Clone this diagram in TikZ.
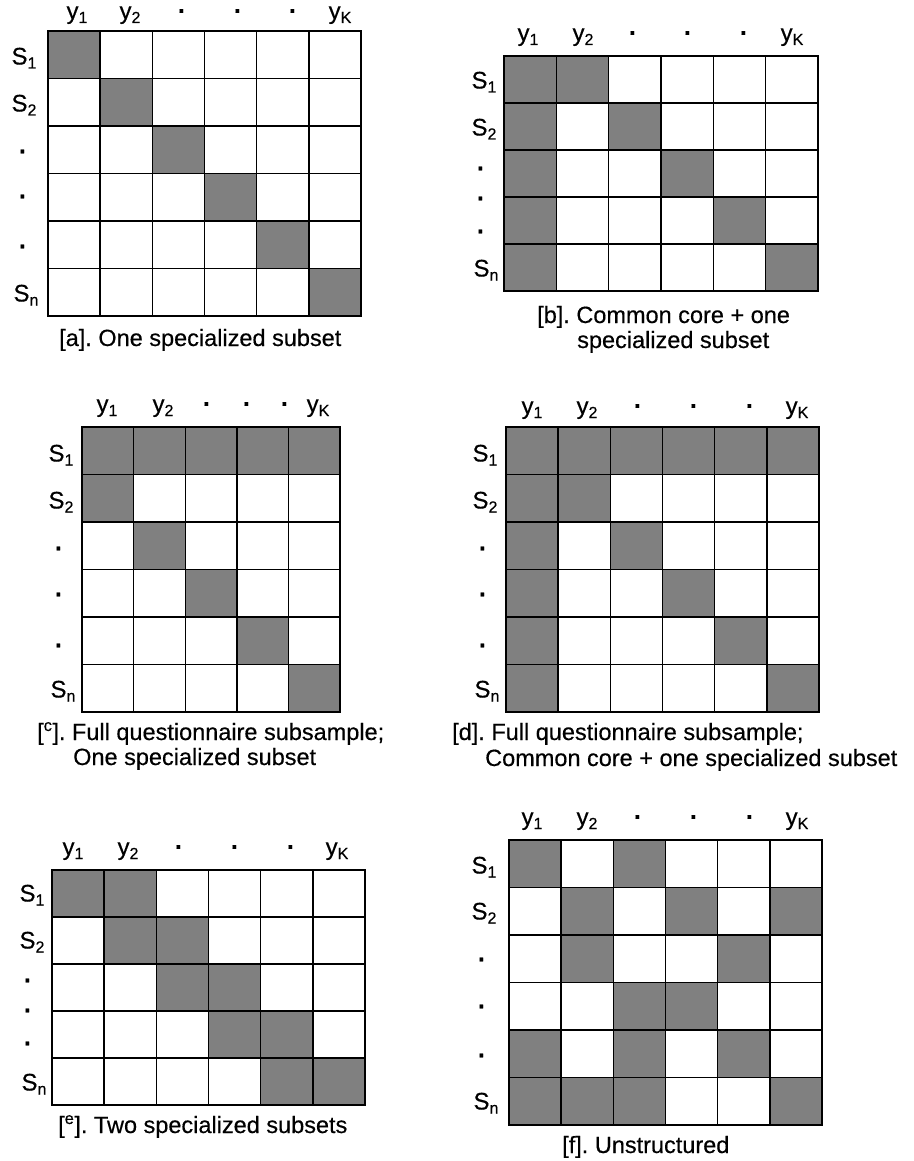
\documentclass[tikz,border=0pt]{standalone}
\usepackage{fontspec}
\setmainfont{Liberation Sans}[FakeBold=0.4]
\frenchspacing
\definecolor{cellgray}{RGB}{128,128,128}
\newcommand{\lsub}[1]{\raisebox{-4pt}{\fontsize{16}{16}\selectfont #1}}
\newcommand{\ldot}{\textbf{·}}

\begin{document}
\begin{tikzpicture}[x=1pt,y=-1pt,
    cell/.style={fill=cellgray},
    cellline/.style={line width=1.4pt},
    collab/.style={anchor=base,inner sep=0pt,font=\fontsize{24}{28}\selectfont},
    rowlab/.style={anchor=center,inner sep=0pt,text height=17pt,text depth=0pt,font=\fontsize{24}{28}\selectfont},
    capline/.style={anchor=base west,inner sep=0pt,font=\fontsize{23.5}{28}\selectfont}]
  \useasboundingbox (0,0) rectangle (913,1161);

  % [a] one specialized subset
  \begin{scope}[shift={(48,31)},xscale=52.17,yscale=47.5]
    \fill[cell] (0,0) rectangle (1,1);
    \fill[cell] (1,1) rectangle (2,2);
    \fill[cell] (2,2) rectangle (3,3);
    \fill[cell] (3,3) rectangle (4,4);
    \fill[cell] (4,4) rectangle (5,5);
    \fill[cell] (5,5) rectangle (6,6);
    \draw[cellline] (0,0) rectangle (6,6) (1,0) -- (1,6) (2,0) -- (2,6) (3,0) -- (3,6) (4,0) -- (4,6) (5,0) -- (5,6);
    \draw[cellline] (0,1) -- (6,1) (0,2) -- (6,2) (0,3) -- (6,3) (0,4) -- (6,4) (0,5) -- (6,5);
  \end{scope}
  \node[collab] (a-y1) at (77,19) {y\lsub{1}};
  \node[collab] (a-y2) at (130,19) {y\lsub{2}};
  \node[collab] (a-c3) at (182,19) {\ldot};
  \node[collab] (a-c4) at (238,19) {\ldot};
  \node[collab] (a-c5) at (293,19) {\ldot};
  \node[collab] (a-yk) at (340,19) {y\lsub{K}};
  \node[rowlab] (a-s1) at (24,56) {S\lsub{1}};
  \node[rowlab] (a-s2) at (24,103) {S\lsub{2}};
  \node[rowlab] (a-r3) at (23,151) {\ldot};
  \node[rowlab] (a-r4) at (23,196) {\ldot};
  \node[rowlab] (a-r5) at (23,246) {\ldot};
  \node[rowlab] (a-sn) at (26,293) {S\lsub{n}};
  \node[capline] (a-cap) at (59,346) {[a]. One specialized subset};

  % [b] common core + one specialized subset
  \begin{scope}[shift={(504,56)},xscale=52.33,yscale=47]
    \fill[cell] (0,0) rectangle (2,1);
    \fill[cell] (0,1) rectangle (1,5);
    \fill[cell] (2,1) rectangle (3,2);
    \fill[cell] (3,2) rectangle (4,3);
    \fill[cell] (4,3) rectangle (5,4);
    \fill[cell] (5,4) rectangle (6,5);
    \draw[cellline] (0,0) rectangle (6,5) (1,0) -- (1,5) (2,0) -- (2,5) (3,0) -- (3,5) (4,0) -- (4,5) (5,0) -- (5,5);
    \draw[cellline] (0,1) -- (6,1) (0,2) -- (6,2) (0,3) -- (6,3) (0,4) -- (6,4);
  \end{scope}
  \node[collab] (b-y1) at (528,41) {y\lsub{1}};
  \node[collab] (b-y2) at (583,41) {y\lsub{2}};
  \node[collab] (b-c3) at (633,41) {\ldot};
  \node[collab] (b-c4) at (688,41) {\ldot};
  \node[collab] (b-c5) at (744,41) {\ldot};
  \node[collab] (b-yk) at (792,41) {y\lsub{K}};
  \node[rowlab] (b-s1) at (484,80) {S\lsub{1}};
  \node[rowlab] (b-s2) at (484,127) {S\lsub{2}};
  \node[rowlab] (b-r3) at (481,168) {\ldot};
  \node[rowlab] (b-r4) at (481,198) {\ldot};
  \node[rowlab] (b-r5) at (481,231) {\ldot};
  \node[rowlab] (b-sn) at (486,268) {S\lsub{n}};
  \node[capline] (b-cap1) at (537,323) {[b]. Common core + one};
  \node[capline] (b-cap2) at (577,348) {specialized subset};

  % [c] full questionnaire subsample; one specialized subset
  \begin{scope}[shift={(82,427)},xscale=51.6,yscale=47.5]
    \fill[cell] (0,0) rectangle (5,1);
    \fill[cell] (0,1) rectangle (1,2);
    \fill[cell] (1,2) rectangle (2,3);
    \fill[cell] (2,3) rectangle (3,4);
    \fill[cell] (3,4) rectangle (4,5);
    \fill[cell] (4,5) rectangle (5,6);
    \draw[cellline] (0,0) rectangle (5,6) (1,0) -- (1,6) (2,0) -- (2,6) (3,0) -- (3,6) (4,0) -- (4,6);
    \draw[cellline] (0,1) -- (5,1) (0,2) -- (5,2) (0,3) -- (5,3) (0,4) -- (5,4) (0,5) -- (5,5);
  \end{scope}
  \node[collab] (c-y1) at (107,412) {y\lsub{1}};
  \node[collab] (c-y2) at (163,412) {y\lsub{2}};
  \node[collab] (c-c3) at (207,412) {\ldot};
  \node[collab] (c-c4) at (247,412) {\ldot};
  \node[collab] (c-c5) at (285,412) {\ldot};
  \node[collab] (c-yk) at (318,412) {y\lsub{K}};
  \node[rowlab] (c-s1) at (61,453) {S\lsub{1}};
  \node[rowlab] (c-s2) at (61,500) {S\lsub{2}};
  \node[rowlab] (c-r3) at (59,548) {\ldot};
  \node[rowlab] (c-r4) at (59,594) {\ldot};
  \node[rowlab] (c-r5) at (59,645) {\ldot};
  \node[rowlab] (c-sn) at (63,689) {S\lsub{n}};
  \node[capline] (c-cap1) at (37,740) {[\textsuperscript{c}]. Full questionnaire subsample;};
  \node[capline] (c-cap2) at (73,765) {One specialized subset};

  % [d] full questionnaire subsample; common core + one specialized subset
  \begin{scope}[shift={(506,427)},xscale=52.17,yscale=47.5]
    \fill[cell] (0,0) rectangle (6,1);
    \fill[cell] (0,1) rectangle (1,6);
    \fill[cell] (1,1) rectangle (2,2);
    \fill[cell] (2,2) rectangle (3,3);
    \fill[cell] (3,3) rectangle (4,4);
    \fill[cell] (4,4) rectangle (5,5);
    \fill[cell] (5,5) rectangle (6,6);
    \draw[cellline] (0,0) rectangle (6,6) (1,0) -- (1,6) (2,0) -- (2,6) (3,0) -- (3,6) (4,0) -- (4,6) (5,0) -- (5,6);
    \draw[cellline] (0,1) -- (6,1) (0,2) -- (6,2) (0,3) -- (6,3) (0,4) -- (6,4) (0,5) -- (6,5);
  \end{scope}
  \node[collab] (d-y1) at (532,414) {y\lsub{1}};
  \node[collab] (d-y2) at (587,414) {y\lsub{2}};
  \node[collab] (d-c3) at (638,414) {\ldot};
  \node[collab] (d-c4) at (694,414) {\ldot};
  \node[collab] (d-c5) at (750,414) {\ldot};
  \node[collab] (d-yk) at (797,414) {y\lsub{K}};
  \node[rowlab] (d-s1) at (485,453) {S\lsub{1}};
  \node[rowlab] (d-s2) at (485,500) {S\lsub{2}};
  \node[rowlab] (d-r3) at (483,548) {\ldot};
  \node[rowlab] (d-r4) at (483,594) {\ldot};
  \node[rowlab] (d-r5) at (483,645) {\ldot};
  \node[rowlab] (d-sn) at (487,689) {S\lsub{n}};
  \node[capline] (d-cap1) at (452,740) {[d]. Full questionnaire subsample;};
  \node[capline] (d-cap2) at (485,766) {Common core + one specialized subset};

  % [e] two specialized subsets
  \begin{scope}[shift={(52,870)},xscale=52.17,yscale=47]
    \fill[cell] (0,0) rectangle (2,1);
    \fill[cell] (1,1) rectangle (3,2);
    \fill[cell] (2,2) rectangle (4,3);
    \fill[cell] (3,3) rectangle (5,4);
    \fill[cell] (4,4) rectangle (6,5);
    \draw[cellline] (0,0) rectangle (6,5) (1,0) -- (1,5) (2,0) -- (2,5) (3,0) -- (3,5) (4,0) -- (4,5) (5,0) -- (5,5);
    \draw[cellline] (0,1) -- (6,1) (0,2) -- (6,2) (0,3) -- (6,3) (0,4) -- (6,4);
  \end{scope}
  \node[collab] (e-y1) at (73,855) {y\lsub{1}};
  \node[collab] (e-y2) at (128,855) {y\lsub{2}};
  \node[collab] (e-c3) at (179,855) {\ldot};
  \node[collab] (e-c4) at (235,855) {\ldot};
  \node[collab] (e-c5) at (291,855) {\ldot};
  \node[collab] (e-yk) at (337,855) {y\lsub{K}};
  \node[rowlab] (e-s1) at (32,893) {S\lsub{1}};
  \node[rowlab] (e-s2) at (32,940) {S\lsub{2}};
  \node[rowlab] (e-r3) at (28,980) {\ldot};
  \node[rowlab] (e-r4) at (28,1010) {\ldot};
  \node[rowlab] (e-r5) at (28,1043) {\ldot};
  \node[rowlab] (e-sn) at (34,1082) {S\lsub{n}};
  \node[capline] (e-cap) at (58,1133) {[\textsuperscript{e}]. Two specialized subsets};

  % [f] unstructured
  \begin{scope}[shift={(509,840)},xscale=52.17,yscale=47.5]
    \fill[cell] (0,0) rectangle (1,1);
    \fill[cell] (2,0) rectangle (3,1);
    \fill[cell] (1,1) rectangle (2,3);
    \fill[cell] (3,1) rectangle (4,2);
    \fill[cell] (5,1) rectangle (6,2);
    \fill[cell] (4,2) rectangle (5,3);
    \fill[cell] (2,3) rectangle (4,4);
    \fill[cell] (0,4) rectangle (1,6);
    \fill[cell] (2,4) rectangle (3,6);
    \fill[cell] (4,4) rectangle (5,5);
    \fill[cell] (1,5) rectangle (2,6);
    \fill[cell] (5,5) rectangle (6,6);
    \draw[cellline] (0,0) rectangle (6,6) (1,0) -- (1,6) (2,0) -- (2,6) (3,0) -- (3,6) (4,0) -- (4,6) (5,0) -- (5,6);
    \draw[cellline] (0,1) -- (6,1) (0,2) -- (6,2) (0,3) -- (6,3) (0,4) -- (6,4) (0,5) -- (6,5);
  \end{scope}
  \node[collab] (f-y1) at (532,825) {y\lsub{1}};
  \node[collab] (f-y2) at (587,825) {y\lsub{2}};
  \node[collab] (f-c3) at (638,825) {\ldot};
  \node[collab] (f-c4) at (694,825) {\ldot};
  \node[collab] (f-c5) at (750,825) {\ldot};
  \node[collab] (f-yk) at (797,825) {y\lsub{K}};
  \node[rowlab] (f-s1) at (484,865) {S\lsub{1}};
  \node[rowlab] (f-s2) at (484,911) {S\lsub{2}};
  \node[rowlab] (f-r3) at (482,959) {\ldot};
  \node[rowlab] (f-r4) at (482,1006) {\ldot};
  \node[rowlab] (f-r5) at (482,1055) {\ldot};
  \node[rowlab] (f-sn) at (486,1101) {S\lsub{n}};
  \node[capline] (f-cap) at (562,1153) {[f]. Unstructured};
\end{tikzpicture}
\end{document}
